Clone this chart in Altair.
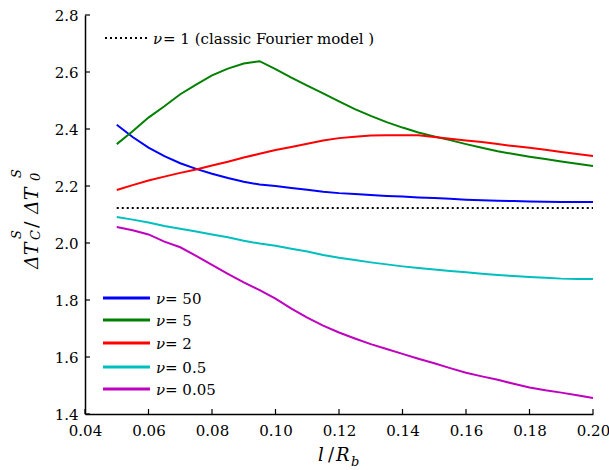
import altair as alt
import pandas as pd

# ---------------- data ----------------
x_vals = [0.050, 0.055, 0.060, 0.065, 0.070, 0.075, 0.080, 0.085, 0.090, 0.095,
          0.100, 0.105, 0.110, 0.115, 0.120, 0.125, 0.130, 0.135, 0.140, 0.145,
          0.150, 0.155, 0.160, 0.165, 0.170, 0.175, 0.180, 0.185, 0.190, 0.195, 0.200]

nu50 = [2.415, 2.372, 2.335, 2.305, 2.280, 2.260, 2.243, 2.228, 2.215, 2.205,
        2.200, 2.193, 2.187, 2.180, 2.175, 2.172, 2.168, 2.165, 2.163, 2.160,
        2.158, 2.155, 2.152, 2.150, 2.148, 2.147, 2.146, 2.145, 2.144, 2.144, 2.144]

nu5 = [2.347, 2.392, 2.440, 2.480, 2.522, 2.556, 2.588, 2.612, 2.630, 2.638,
       2.610, 2.580, 2.552, 2.525, 2.497, 2.470, 2.446, 2.424, 2.405, 2.388,
       2.374, 2.361, 2.347, 2.334, 2.322, 2.312, 2.303, 2.295, 2.286, 2.278, 2.270]

nu2 = [2.186, 2.203, 2.219, 2.233, 2.246, 2.258, 2.272, 2.285, 2.300, 2.313,
       2.326, 2.337, 2.348, 2.360, 2.368, 2.373, 2.377, 2.378, 2.378, 2.378,
       2.372, 2.366, 2.360, 2.354, 2.347, 2.340, 2.334, 2.327, 2.319, 2.312, 2.305]

nu05 = [2.091, 2.082, 2.072, 2.060, 2.050, 2.040, 2.030, 2.020, 2.008, 1.998,
        1.990, 1.980, 1.970, 1.958, 1.948, 1.940, 1.932, 1.925, 1.918, 1.912,
        1.907, 1.902, 1.897, 1.892, 1.888, 1.884, 1.881, 1.878, 1.875, 1.874, 1.874]

nu005 = [2.056, 2.045, 2.030, 2.005, 1.985, 1.955, 1.923, 1.892, 1.862, 1.835,
         1.805, 1.770, 1.738, 1.710, 1.686, 1.665, 1.645, 1.628, 1.611, 1.594,
         1.578, 1.561, 1.545, 1.532, 1.520, 1.506, 1.493, 1.483, 1.475, 1.466, 1.456]

nu1_x = [0.05, 0.20]
nu1_y = [2.123, 2.123]

series_names = ["50", "5", "2", "0.5", "0.05"]
series_values = [nu50, nu5, nu2, nu05, nu005]
series_colors = ["#0000FF", "#008000", "#FF0000", "#00BFBF", "#BF00BF"]
ref_label = "= 1  (classic  Fourier model )"

x_ticks = [0.04, 0.06, 0.08, 0.10, 0.12, 0.14, 0.16, 0.18, 0.20]
y_ticks = [1.4, 1.6, 1.8, 2.0, 2.2, 2.4, 2.6, 2.8]

# ---------------- layout ----------------
W, H = 508, 399
FONT = "DejaVu Serif"

rows = []
for name, vals in zip(series_names, series_values):
    for xv, yv in zip(x_vals, vals):
        rows.append({"x": xv, "y": yv, "series": name})
df = pd.DataFrame(rows)

xscale = alt.Scale(domain=[0.04, 0.20], nice=False, zero=False)
yscale = alt.Scale(domain=[1.4, 2.8], nice=False, zero=False)

xaxis = alt.Axis(values=x_ticks, format=".2f", ticks=False, grid=False, title=None,
                 labelFont=FONT, labelFontSize=15, labelColor="black",
                 labelPadding=9, domainColor="black", domainWidth=1.5,
                 labelFlush=False, labelOverlap=False)
yaxis = alt.Axis(values=y_ticks, format=".1f", ticks=False, grid=False, title=None,
                 labelFont=FONT, labelFontSize=15, labelColor="black",
                 labelPadding=7, domainColor="black", domainWidth=1.5,
                 labelFlush=False, labelOverlap=False)

lines = alt.Chart(df).mark_line(strokeWidth=2).encode(
    x=alt.X("x:Q", scale=xscale, axis=xaxis),
    y=alt.Y("y:Q", scale=yscale, axis=yaxis),
    color=alt.Color("series:N", scale=alt.Scale(domain=series_names, range=series_colors), legend=None),
    detail="series:N",
)

ref = alt.Chart(pd.DataFrame({"x": nu1_x, "y": nu1_y})).mark_line(
    strokeWidth=2, color="black", strokeDash=[2, 3]
).encode(x=alt.X("x:Q", scale=xscale), y=alt.Y("y:Q", scale=yscale))

xtick_layer = alt.Chart(pd.DataFrame({"t": x_ticks})).mark_rule(color="black", strokeWidth=1.2).encode(
    x=alt.X("t:Q", scale=xscale), y=alt.value(H), y2=alt.value(H - 5))
ytick_layer = alt.Chart(pd.DataFrame({"t": y_ticks})).mark_rule(color="black", strokeWidth=1.2).encode(
    y=alt.Y("t:Q", scale=yscale), x=alt.value(0), x2=alt.value(5))

one = pd.DataFrame({"a": [0]})

def txt(s, x, y, size=15, style="normal", angle=0, align="left", baseline="middle"):
    kw = dict(text=s, font=FONT, fontSize=size, fontStyle=style, align=align,
              baseline=baseline, color="black")
    if angle:
        kw["angle"] = angle
    return alt.Chart(one).mark_text(**kw).encode(x=alt.value(x), y=alt.value(y))

def seg(x1, x2, y, color, dash=None, width=3):
    kw = dict(color=color, strokeWidth=width)
    if dash:
        kw["strokeDash"] = dash
    return alt.Chart(one).mark_rule(**kw).encode(x=alt.value(x1), x2=alt.value(x2), y=alt.value(y))

legend_layers = []
# reference (nu = 1) entry
legend_layers.append(seg(20, 63, 23, "black", dash=[2, 3], width=2))
legend_layers.append(txt("ν", 68, 24, style="italic"))
legend_layers.append(txt(ref_label, 78, 24))
row_y = [283, 305, 328, 352, 374]
for name, col, ry in zip(series_names, series_colors, row_y):
    legend_layers.append(seg(18, 65, ry, col))
    legend_layers.append(txt("ν", 71, ry + 1, style="italic"))
    legend_layers.append(txt("= " + name, 80, ry + 1))

# axis titles built from pieces (sub/superscripts)
title_layers = [
    # x title: l / R_b
    txt("l", 233, 446, size=18, style="italic", baseline="alphabetic"),
    txt("/", 243, 446, size=18, baseline="alphabetic"),
    txt("R", 251, 446, size=18, style="italic", baseline="alphabetic"),
    txt("b", 266, 451, size=13, style="italic", baseline="alphabetic"),
    # y title: ΔT_C^S / ΔT_0^S (rotated)
    txt("ΔT", -47, 254, size=19, style="italic", angle=270, baseline="alphabetic"),
    txt("C", -45, 225, size=13, style="italic", angle=270, baseline="alphabetic"),
    txt("S", -64, 224, size=13, style="italic", angle=270, baseline="alphabetic"),
    txt("/", -47, 213, size=19, angle=270, baseline="alphabetic"),
    txt("ΔT", -47, 199, size=19, style="italic", angle=270, baseline="alphabetic"),
    txt("0", -45, 166, size=13, style="italic", angle=270, baseline="alphabetic"),
    txt("S", -64, 163, size=13, style="italic", angle=270, baseline="alphabetic"),
]

chart = alt.layer(
    lines, ref, xtick_layer, ytick_layer, *legend_layers, *title_layers
).properties(
    width=W, height=H,
    autosize=alt.AutoSizeParams(type="none"),
    padding={"left": 85, "top": 15, "right": 16, "bottom": 56},
    background="white",
).configure_view(stroke=None)

chart.save("out.html", embed_options={"renderer": "svg", "actions": False})
